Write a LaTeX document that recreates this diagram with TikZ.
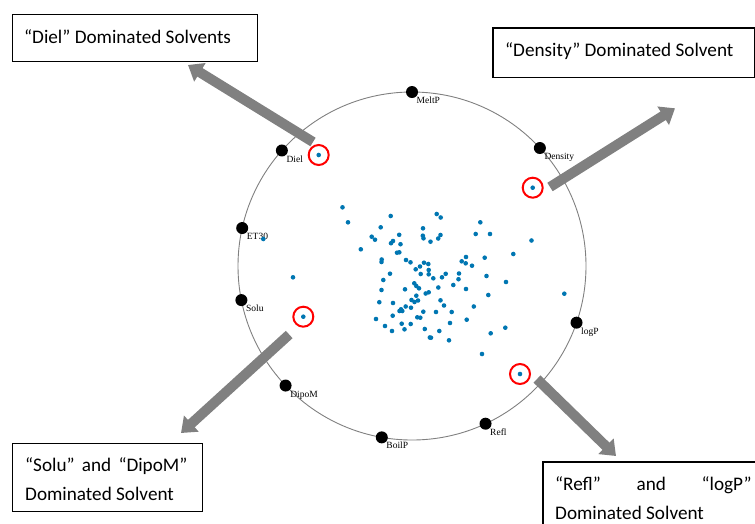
\documentclass[tikz,border=0pt]{standalone}
\usepackage{fontspec}
\setmainfont{Liberation Serif}
\newfontfamily\boxfont{Carlito}
\usetikzlibrary{arrows.meta,calc}
\definecolor{pointblue}{RGB}{0,118,178}
\definecolor{arrowgray}{RGB}{128,128,128}

\begin{document}
\begin{tikzpicture}[x=1pt,y=-1pt,
  axis dot/.style={circle,fill=black,inner sep=0pt,minimum size=12pt},
  axis label/.style={anchor=base west,inner sep=0pt,font=\fontsize{9.5}{10}\selectfont},
  solvent/.style={circle,fill=pointblue,inner sep=0pt,minimum size=4.6pt},
  pick/.style={circle,draw=red,line width=2pt,inner sep=0pt,minimum size=20pt},
  note box/.style={draw=black,line width=1.3pt,rectangle,inner sep=0pt,anchor=north west},
  note text/.style={anchor=base west,inner sep=0pt,font=\boxfont\fontsize{19.2}{23}\selectfont},
  block arrow/.style={arrowgray,line width=10pt,-{Triangle[length=14pt,width=21pt]}}]
  \useasboundingbox (0,0) rectangle (755,523);
  \clip (0,0) rectangle (755,523);

  \draw[gray,line width=0.9pt] (412,266) circle[radius=174];

  % variable axes round the rim
  \begin{scope}[shift={(412,266)}]
    \foreach \ang/\var in {-90/MeltP,-42.7/Density,19/logP,65/Refl,100/BoilP,
        136.6/DipoM,168.7/Solu,-167.4/ET30,-138.4/Diel}{
      \node[axis dot] (ax-\var) at (\ang:174) {};
      \node[axis label] (lb-\var) at ([shift={(4.5,11.6)}]ax-\var.center) {\var};
    }
  \end{scope}

  % arrows out to the groups
  \coordinate (tail-diel) at (313,142);    \coordinate (tip-diel) at (188,65);
  \coordinate (tail-dens) at (550,187);    \coordinate (tip-dens) at (675,108.3);
  \coordinate (tail-solu) at (289.2,334.5);\coordinate (tip-solu) at (181,433);
  \coordinate (tail-refl) at (537,379);    \coordinate (tip-refl) at (616,456);
  \foreach \g in {diel,dens,solu,refl}
    \draw[block arrow] (tail-\g) -- (tip-\g);

  % solvents
  \foreach \px/\py [count=\i] in {342.5/207.3,348/222.3,390.7/216,380.7/227.3,371.7/236.7,
      375/239.7,360.8/249.3,391/243.2,393/241,399.2/234.8,400.5/244.2,397/252.7,399.3/252.3,
      423/228.3,422.8/235.7,423.5/238.3,430.5/241.7,381.7/259.5,381.5/262,406/260,410.5/262.3,
      415.7/269.3,420/266.5,424/262.7,428.3/264,420.7/274,428.7/270,428.7/274.3,390/273.7,
      383.3/280,293/277.3,436.7/214,440.7/217.5,480.3/222.3,475.7/234,490/234,440.5/235,
      438.2/238.5,531.5/240.5,513.3/254,484.7/257.7,466/257,461.7/261.3,465.7/263.3,472/265.7,
      445.7/273.8,442/277.3,433.3/278.3,459/273.5,458.5/279.2,486.5/276,506/282,381.5/290,
      379.3/302.2,376/319,385/326,392/331,392.7/315.7,393/303,405/289.3,414.3/283.3,416.3/286,
      419/288.3,416.3/295.7,411.5/300,414.5/302,418/300.5,405.7/306.5,401/309.3,399.5/311,
      402.3/311,411/307.7,423.3/311.7,425.7/293.5,428.7/292.3,417.3/317.3,420.3/317.7,
      401.7/323.7,410.7/324,404.5/329.3,424.8/329,429.8/337.5,438.3/287.5,453.3/285,466/289,
      488.3/295,564.3/293.7,440.5/300.3,444/305.5,436/312,451.7/312,473.8/306.5,466.7/319.7,
      450/323,439.3/331,431/337.7,449/340.3,490.7/333.3,505.3/327.7,482/354,263.3/239}
    \node[solvent] (s\i) at (\px,\py) {};

  \foreach \px/\py/\g in {318.7/155/diel,532.7/187.7/dens,303.3/316.7/solu,520/374/refl}{
    \node[solvent] (pt-\g) at (\px,\py) {};
    \node[pick] (ring-\g) at (pt-\g) {};
  }

  % group boxes
  \node[note box,minimum width=245pt,minimum height=47pt] (box-diel) at (11.7,14) {};
  \node[note text] (txt-diel) at ([shift={(12.3,29.3)}]box-diel.north west)
    {“Diel” Dominated Solvents};
  \node[note box,minimum width=262pt,minimum height=49.4pt] (box-dens) at (492.3,27.3) {};
  \node[note text] (txt-dens) at ([shift={(12.7,28.7)}]box-dens.north west)
    {“Density” Dominated Solvent};
  \node[note box,minimum width=190pt,minimum height=68pt] (box-solu) at (11.7,442.7) {};
  \node[note text] (txt-solu1) at ([shift={(13.3,29)}]box-solu.north west)
    {\hbox to 162.3pt{“Solu”\hfil and\hfil “DipoM”}};
  \node[note text] (txt-solu2) at ([shift={(13.3,57.3)}]box-solu.north west)
    {Dominated Solvent};
  \node[note box,minimum width=225pt,minimum height=80pt] (box-refl) at (542.3,461.3) {};
  \node[note text] (txt-refl1) at ([shift={(12.7,28.7)}]box-refl.north west)
    {\hbox to 196.5pt{“Refl”\hfil and\hfil “logP”}};
  \node[note text] (txt-refl2) at ([shift={(12.7,58)}]box-refl.north west)
    {Dominated Solvent};
\end{tikzpicture}
\end{document}
